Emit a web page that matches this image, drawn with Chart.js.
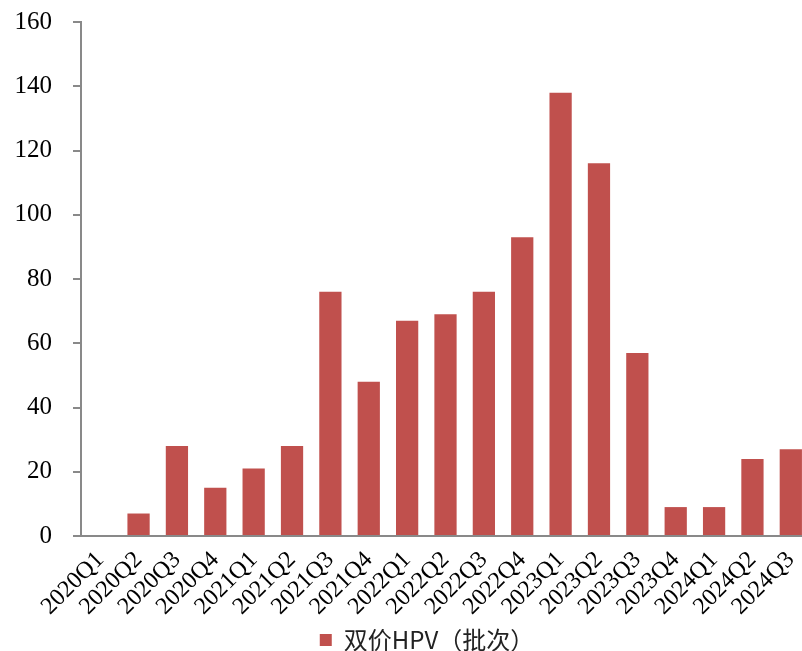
<!DOCTYPE html>
<html>
<head>
<meta charset="utf-8">
<script src="https://cdn.jsdelivr.net/npm/chart.js@4/dist/chart.umd.min.js"></script>
<style>
  html, body { margin: 0; padding: 0; background: #fff; overflow: hidden; }
  #wrap { width: 810px; height: 662px; position: relative; }
</style>
</head>
<body>
<div id="wrap"><canvas id="myChart"></canvas></div>
<script>
// quarters on the x axis
var quarters = ['2020Q1','2020Q2','2020Q3','2020Q4','2021Q1','2021Q2','2021Q3','2021Q4',
                '2022Q1','2022Q2','2022Q3','2022Q4','2023Q1','2023Q2','2023Q3','2023Q4',
                '2024Q1','2024Q2','2024Q3'];
// batches per quarter
var batches = [0, 7, 28, 15, 21, 28, 76, 48, 67, 69, 76, 93, 138, 116, 57, 9, 9, 24, 27];
var seriesName = '双价HPV（批次）';
var yTicks = [0, 20, 40, 60, 80, 100, 120, 140, 160];

var axisGray = '#898989';
var serif = "'Liberation Serif', 'Times New Roman', serif";

// the original picture is cropped on the right, so its legend sits right of centre
var legendShift = {
  id: 'legendShift',
  afterLayout: function(chart) {
    if (chart.legend) {
      chart.legend.left += 22;
      chart.legend.right += 22;
    }
  }
};

var data = {
  labels: quarters,
  datasets: [{
    label: seriesName,
    data: batches,
    backgroundColor: '#C0504D',
    borderWidth: 0,
    categoryPercentage: 1.0,
    barPercentage: 0.58
  }]
};

var config = {
  type: 'bar',
  data: data,
  plugins: [legendShift],
  options: {
    responsive: true,
    maintainAspectRatio: false,
    animation: false,
    layout: { padding: { top: 22, right: 0, left: 0, bottom: 0 } },
    plugins: {
      tooltip: { enabled: false },
      legend: {
        position: 'bottom',
        labels: {
          boxWidth: 12,
          boxHeight: 12,
          padding: 3,
          color: '#222',
          font: { family: "'Noto Sans CJK SC', sans-serif", size: 24 }
        }
      }
    },
    scales: {
      x: {
        grid: { display: false },
        border: { display: true, color: axisGray, width: 2 },
        ticks: {
          color: '#000',
          maxRotation: 45,
          minRotation: 45,
          autoSkip: false,
          padding: 2,
          font: { family: serif, size: 24 }
        },
        afterFit: function(scale) {
          scale.height = 89;
          scale.paddingLeft = 0;
          scale.paddingRight = 0;
        }
      },
      y: {
        min: 0,
        max: 160,
        afterBuildTicks: function(scale) {
          scale.ticks = yTicks.map(function(v) { return { value: v }; });
        },
        grid: {
          display: true,
          drawOnChartArea: false,
          drawTicks: true,
          tickLength: 8,
          color: axisGray,
          lineWidth: 2
        },
        border: { display: true, color: axisGray, width: 2 },
        ticks: {
          color: '#000',
          padding: 21,
          font: { family: serif, size: 25 }
        },
        afterFit: function(scale) {
          scale.width = 81;
          scale.paddingTop = 0;
          scale.paddingBottom = 0;
        }
      }
    }
  }
};

var myChart = new Chart(document.getElementById('myChart'), config);
</script>
</body>
</html>
